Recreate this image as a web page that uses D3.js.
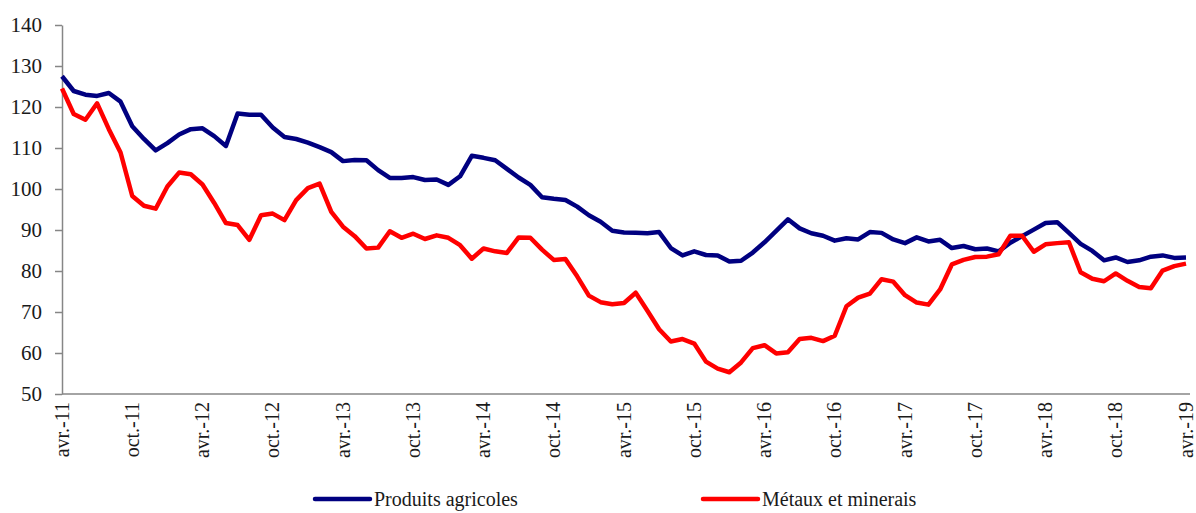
<!DOCTYPE html>
<html>
<head>
<meta charset="utf-8">
<script src="https://cdn.jsdelivr.net/npm/d3@7"></script>
<style>
  body { margin: 0; background: #fff; }
  svg { display: block; }
  svg text { font-family: 'Liberation Serif', 'Times New Roman', 'DejaVu Serif', serif; }
</style>
</head>
<body>
<svg id="chart" width="1196" height="513"></svg>
<script>
const startYear = 2011, startMonth = 3; // avril 2011 (0-based month index)
const nMonths = 97;

const agricoles = [
  127.5, 123.9, 123.0, 122.7, 123.4, 121.3, 115.3, 112.2, 109.4, 111.2,
  113.3, 114.6, 114.8, 112.9, 110.5, 118.4, 118.1, 118.1, 115.0, 112.7,
  112.2, 111.3, 110.2, 109.0, 106.8, 107.1, 107.0, 104.6, 102.7, 102.7,
  102.9, 102.2, 102.3, 101.0, 103.1, 108.1, 107.6, 107.0, 104.9, 102.8,
  101.0, 98.0, 97.6, 97.3, 95.7, 93.6, 92.0, 89.8, 89.4, 89.3,
  89.2, 89.5, 85.6, 83.8, 84.8, 83.9, 83.8, 82.3, 82.5, 84.5,
  87.0, 89.8, 92.6, 90.4, 89.2, 88.6, 87.4, 88.0, 87.7, 89.5,
  89.3, 87.7, 86.8, 88.2, 87.2, 87.6, 85.6, 86.1, 85.3, 85.5,
  84.8, 86.9, 88.5, 90.1, 91.7, 91.9, 89.3, 86.6, 84.9, 82.6,
  83.3, 82.2, 82.6, 83.5, 83.8, 83.2, 83.3
];

const metaux = [
  124.5, 118.3, 116.9, 120.9, 114.6, 108.9, 98.3, 95.9, 95.2, 100.6,
  104.0, 103.6, 101.1, 96.6, 91.7, 91.2, 87.6, 93.6, 94.0, 92.4,
  97.3, 100.2, 101.3, 94.4, 90.8, 88.5, 85.5, 85.7, 89.7, 88.1,
  89.1, 87.8, 88.7, 88.1, 86.3, 83.0, 85.5, 84.8, 84.4, 88.2,
  88.1, 85.2, 82.7, 82.9, 78.7, 74.0, 72.4, 71.9, 72.2, 74.7,
  70.3, 65.8, 62.8, 63.4, 62.3, 57.9, 56.2, 55.3, 57.7, 61.2,
  61.9, 59.9, 60.2, 63.4, 63.7, 62.9, 64.2, 71.4, 73.5, 74.5,
  78.0, 77.4, 74.1, 72.3, 71.8, 75.5, 81.6, 82.7, 83.4, 83.5,
  84.1, 88.6, 88.6, 84.7, 86.5, 86.8, 87.0, 79.7, 78.1, 77.5,
  79.4, 77.6, 76.1, 75.8, 80.1, 81.2, 81.8
];

const monthNames = ["janv.", "févr.", "mars", "avr.", "mai", "juin", "juil.", "août", "sept.", "oct.", "nov.", "déc."];
const categories = d3.range(nMonths).map(i => {
  const m = (startMonth + i) % 12;
  const yr = startYear + Math.floor((startMonth + i) / 12);
  return monthNames[m] + "-" + String(yr).slice(2);
});
const tickIndices = d3.range(0, nMonths, 6);
const yTicks = [50, 60, 70, 80, 90, 100, 110, 120, 130, 140];

const series = [
  { name: "Produits agricoles", values: agricoles, color: "#000080" },
  { name: "Métaux et minerais", values: metaux, color: "#FF0000" }
];

const svg = d3.select("#chart");
const mLeft = 62, mRight = 1186, mTop = 25, mBottom = 394;
const FONT = "'Liberation Serif', 'Times New Roman', 'DejaVu Serif', serif";

const x = d3.scaleLinear().domain([0, nMonths - 1]).range([mLeft, mRight]);
const y = d3.scaleLinear().domain([50, 140]).range([mBottom, mTop]);

// Y axis
const yAxis = d3.axisLeft(y).tickValues(yTicks).tickSize(7).tickPadding(13).tickSizeOuter(0);
const gy = svg.append("g").attr("transform", `translate(${mLeft},0)`).call(yAxis);
gy.attr("font-family", FONT);
gy.select(".domain").attr("stroke", "#868686").attr("stroke-width", 1.5);
gy.selectAll(".tick line").attr("stroke", "#868686").attr("stroke-width", 1.5);
gy.selectAll(".tick text").attr("font-size", 21).attr("fill", "#1a1a1a");

// X axis
const xAxis = d3.axisBottom(x).tickValues(tickIndices).tickFormat(i => categories[i])
  .tickSize(0).tickPadding(8).tickSizeOuter(0);
const gx = svg.append("g").attr("transform", `translate(0,${mBottom})`).call(xAxis);
gx.attr("font-family", FONT);
gx.select(".domain").attr("stroke", "#868686").attr("stroke-width", 1.5)
  .attr("d", `M${mLeft},0H${mRight + 4}`);
gx.selectAll(".tick text")
  .attr("font-size", 20).attr("fill", "#1a1a1a")
  .attr("text-anchor", "end")
  .attr("transform", "rotate(-90)")
  .attr("x", -8).attr("y", 0).attr("dy", "0.3em");

// Lines
const line = d3.line().x((d, i) => x(i)).y(d => y(d));
series.forEach(s => {
  svg.append("path").datum(s.values)
    .attr("fill", "none").attr("stroke", s.color)
    .attr("stroke-width", 4.5).attr("stroke-linejoin", "round")
    .attr("d", line);
});

// Legend
const legendPos = [{ x: 315 }, { x: 703 }];
series.forEach((s, i) => {
  const g = svg.append("g").attr("transform", `translate(${legendPos[i].x},499)`);
  g.append("line").attr("x1", 0).attr("x2", 55).attr("y1", 0).attr("y2", 0)
    .attr("stroke", s.color).attr("stroke-width", 4.5).attr("stroke-linecap", "round");
  g.append("text").attr("x", 59).attr("y", 0).attr("dy", "0.35em")
    .attr("font-family", FONT)
    .attr("font-size", 20).attr("fill", "#1a1a1a").text(s.name);
});
</script>
</body>
</html>
